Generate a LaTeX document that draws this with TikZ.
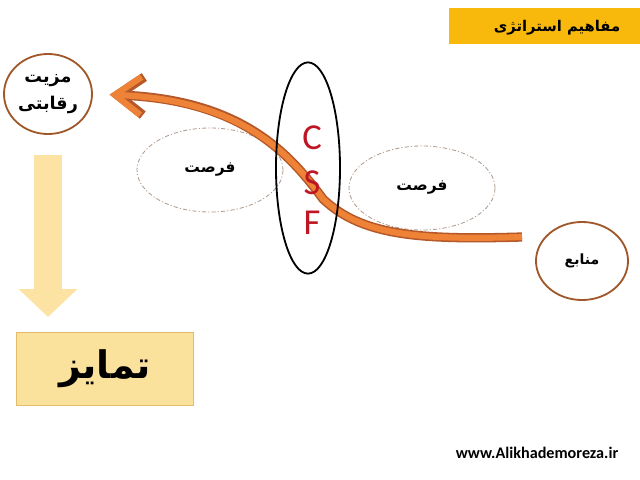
\documentclass[tikz,border=0pt]{standalone}
\usepackage{fontspec}
\setmainfont{Carlito}
\newfontfamily\farsifont[Script=Arabic]{DejaVu Sans}
\TeXXeTstate=1
\usetikzlibrary{positioning,shapes.geometric,arrows.meta}

\definecolor{titlegold}{HTML}{F8B90C}
\definecolor{ringbrown}{HTML}{A0582A}
\definecolor{dashgray}{HTML}{B09C90}
\definecolor{curvefill}{HTML}{EE8236}
\definecolor{curveedge}{HTML}{B4582A}
\definecolor{paleyellow}{HTML}{FCE3A4}
\definecolor{boxyellow}{HTML}{FBE29C}
\definecolor{boxedge}{HTML}{E2BC6A}
\definecolor{csfred}{HTML}{BE1622}

\tikzset{
  ringnode/.style={shape=ellipse, draw=ringbrown, line width=1.3pt, inner sep=0pt, align=center,
    font=\farsifont\bfseries\fontsize{12.5}{19}\selectfont},
  chancenode/.style={shape=ellipse, draw=dashgray, line width=0.6pt,
    dash pattern=on 3pt off 1.5pt on 0.8pt off 1.5pt,
    minimum width=3.65cm, minimum height=2.1cm, font=\farsifont\bfseries\fontsize{11}{13}\selectfont},
  csfletter/.style={text=csfred, font=\fontsize{26}{26}\selectfont, inner sep=0pt},
  orangecurve/.style={line width=4.4pt, draw=curvefill, -{Straight Barb[length=0.65cm,width=0.95cm]},
    preaction={draw=curveedge, line width=6.6pt, -{Straight Barb[length=0.65cm,width=0.95cm]}}},
  fadearrow/.style={line width=0.675cm, draw=paleyellow, -{Triangle[length=0.7cm,width=1.43cm]}}
}

\begin{document}
\begin{tikzpicture}[x=0.025cm, y=-0.025cm]
        \useasboundingbox (0,0) rectangle (640,480);

        \node[fill=titlegold, minimum width=4.78cm, minimum height=0.9cm, inner sep=0pt] (title) at (544.5,26) {};
        \node[font=\farsifont\bfseries\fontsize{10.5}{12}\selectfont] (titletext) at (557,28) {\beginR مفاهیم استراتژی\endR};

        \node[chancenode] (opp1) at (210,170) {\beginR فرصت\endR};
        \node[chancenode] (opp2) at (422,188) {\beginR فرصت\endR};

        \node[ringnode, minimum width=2.2cm, minimum height=2.0cm] (adv) at (48,94) {\beginR مزیت\endR\\ \beginR رقابتی\endR};
        \node[ringnode, minimum width=2.3cm, minimum height=1.95cm, font=\farsifont\bfseries\fontsize{10}{12}\selectfont] (res) at (582,261) {\beginR منابع\endR};
        \coordinate (start) at (522,237);

        \draw[orangecurve, shorten >=0.42cm] (start) .. controls (420,240) and (362,236) .. (323,199)
            .. controls (290,154) and (242,100) .. (adv.east);

        \node[shape=ellipse, draw=black, line width=1.3pt, minimum width=1.6cm, minimum height=5.28cm] (csf) at (308,168) {};
        \node[csfletter] (c) at (312,138) {C};
        \node[csfletter] (s) at (312,183) {S};
        \node[csfletter] (f) at (312,223) {F};

        \node[fill=boxyellow, draw=boxedge, line width=0.8pt, minimum width=4.42cm, minimum height=1.82cm,
            font=\farsifont\bfseries\fontsize{27}{30}\selectfont] (diff) at (105,369) {\beginR تمایز\endR};

        \draw[fadearrow] ([yshift=-0.5cm]adv.south) -- ([yshift=0.375cm]adv.south |- diff.north);

        \node[font=\bfseries\fontsize{11.5}{13}\selectfont] (site) at (537,453) {www.Alikhademoreza.ir};

    \end{tikzpicture}
\end{document}
